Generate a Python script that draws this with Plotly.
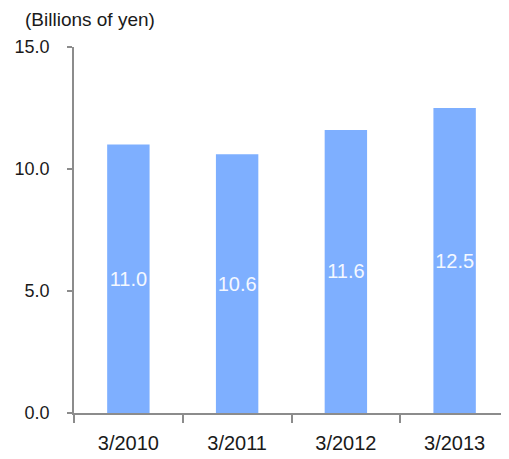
import plotly.graph_objects as go

# ── Dados ────────────────────────────────────────────
periodos = ["3/2010", "3/2011", "3/2012", "3/2013"]
valores = [11.0, 10.6, 11.6, 12.5]
rotulos = ["11.0", "10.6", "11.6", "12.5"]

_BARRA = "#7EAFFF"
_EIXO = "#8C8C8C"
_FONTE = "Liberation Sans, Arial, sans-serif"

fig = go.Figure(
    go.Bar(
        x=periodos,
        y=valores,
        text=rotulos,
        textposition="inside",
        insidetextanchor="middle",
        textangle=0,
        constraintext="none",
        textfont=dict(color="#F4F8FF", size=20, family=_FONTE),
        marker=dict(color=_BARRA, line_width=0),
        width=0.39,
    )
)

# a página tem 8px de margem no body -> figura um pouco menor
fig.update_layout(
    width=501,
    height=451,
    paper_bgcolor="white",
    plot_bgcolor="white",
    font=dict(family=_FONTE, color="#1a1a1a", size=18),
    margin=dict(l=66, r=0, t=39, b=46),
    showlegend=False,
    uniformtext=dict(minsize=20, mode="show"),
    xaxis=dict(
        showline=True,
        linecolor=_EIXO,
        linewidth=1.5,
        ticks="outside",
        tickson="boundaries",
        ticklen=8,
        tickcolor=_EIXO,
        tickwidth=1.5,
        showgrid=False,
        tickfont=dict(size=20),
        ticklabelstandoff=11,
    ),
    yaxis=dict(
        range=[0, 15],
        tickvals=[0, 5, 10, 15],
        tickformat=".1f",
        showline=True,
        linecolor=_EIXO,
        linewidth=1.5,
        ticks="outside",
        ticklen=5,
        tickcolor=_EIXO,
        tickwidth=1.5,
        showgrid=False,
        zeroline=False,
        tickfont=dict(size=18),
        ticklabelstandoff=14,
    ),
    annotations=[
        dict(
            text="(Billions of yen)",
            xref="paper", yref="paper",
            x=-0.117, y=1.0765,
            xanchor="left", yanchor="middle",
            showarrow=False,
            font=dict(size=19),
        )
    ],
)

fig.write_html("out.html")
